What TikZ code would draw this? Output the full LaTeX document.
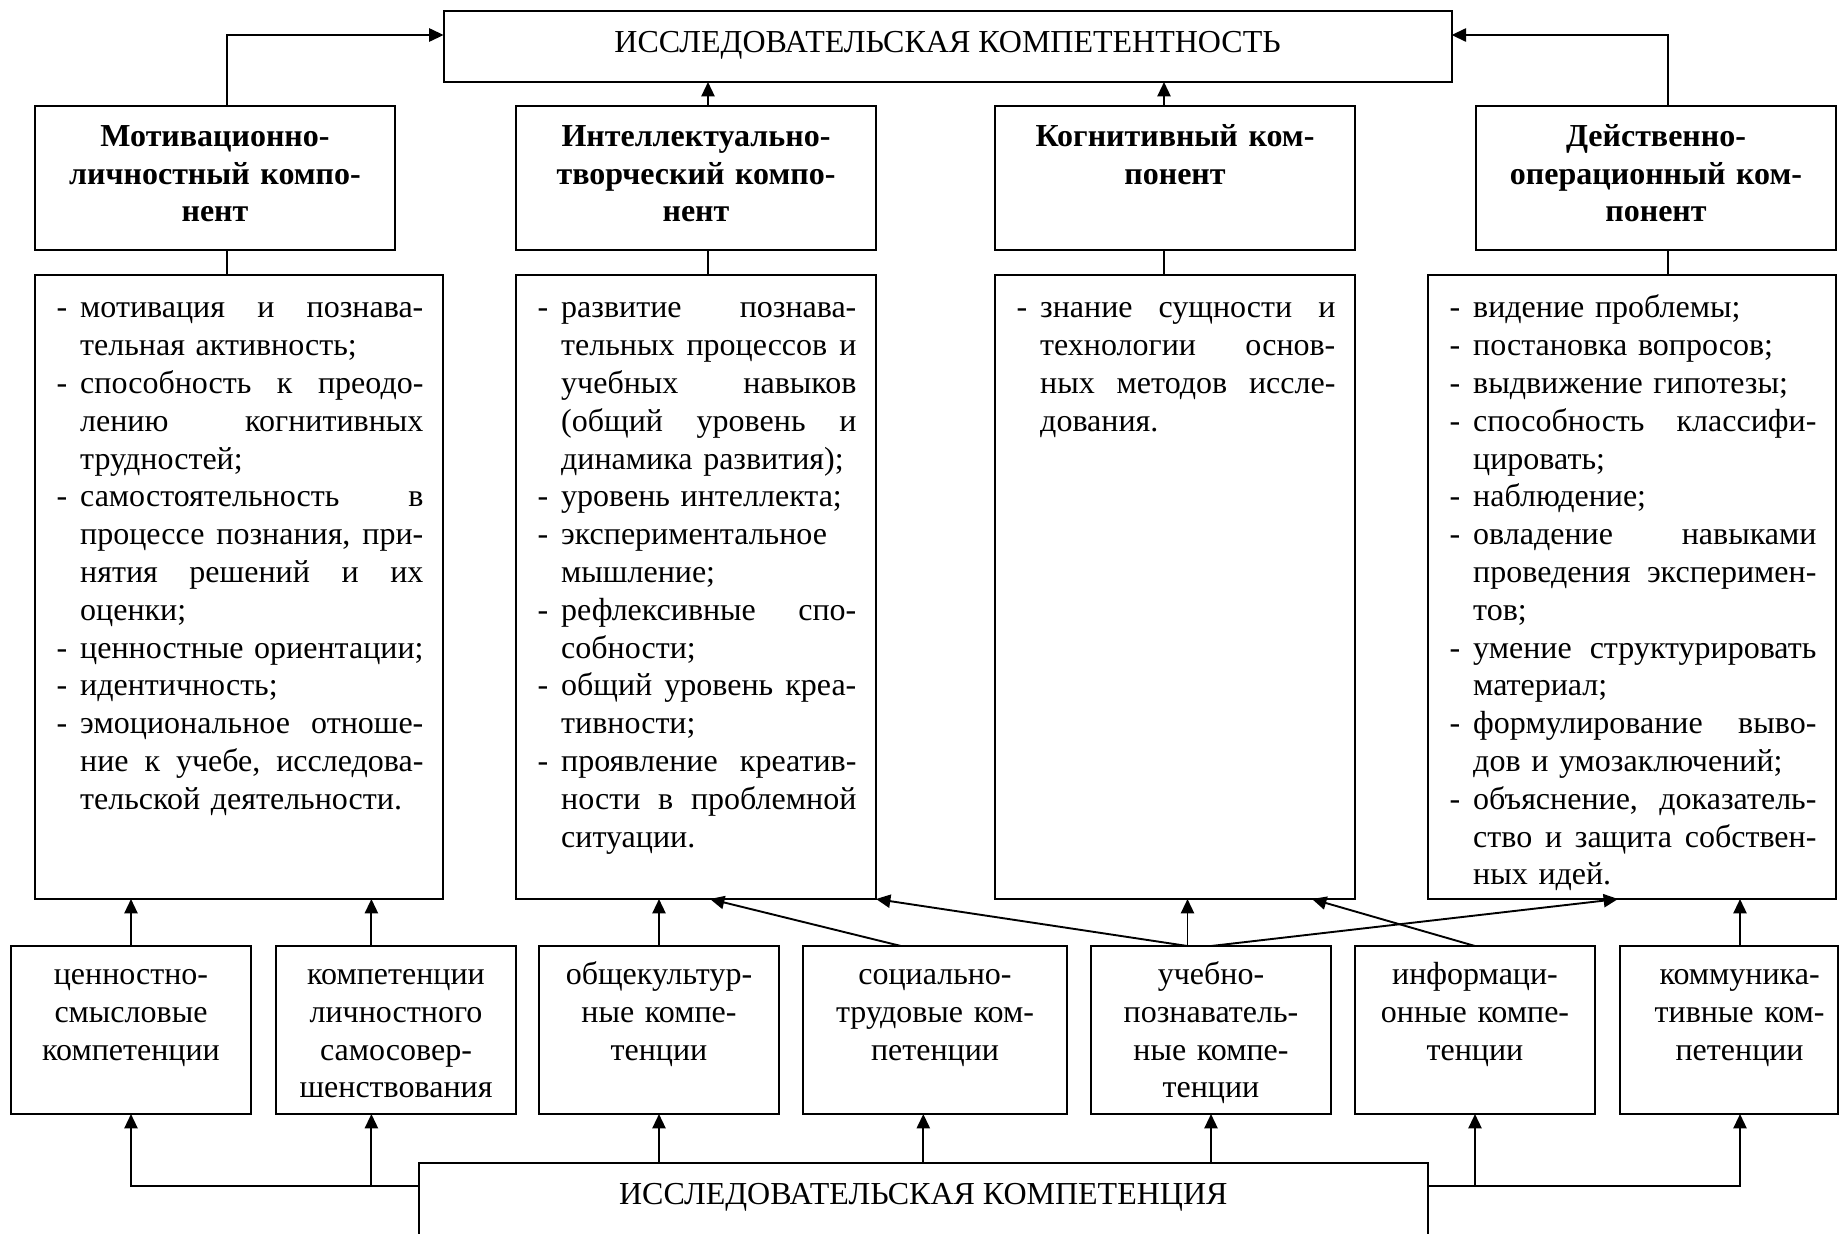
\documentclass[tikz,border=0pt]{standalone}
\usepackage{fontspec}
\setmainfont{Liberation Serif}
\usetikzlibrary{arrows.meta,calc}
\newcommand\jA[1]{\hbox to 171.6pt{#1}}
\newcommand\fA[1]{\hbox to 171.6pt{#1\hfil}}
\newcommand\jB[1]{\hbox to 147.6pt{#1}}
\newcommand\fB[1]{\hbox to 147.6pt{#1\hfil}}
\newcommand\dmark{\llap{\hbox to 11.75pt{-\hfil}}}
\newcommand\gap{\hspace{0pt plus 1fill}}
\begin{document}
\begin{tikzpicture}[x=0.5pt,y=-0.5pt,
 font=\fontsize{16pt}{18.9pt}\selectfont,
 box/.style={draw,line width=0.95pt,inner sep=0pt,outer sep=0pt,anchor=north west},
 ln/.style={line width=0.95pt},
 arr/.style={line width=0.95pt,-{Triangle[length=7.2pt,width=6.6pt]}},
 ttl/.style={anchor=base,align=center,inner sep=0pt,font=\fontsize{16pt}{18.9pt}\selectfont\bfseries},
 ctxt/.style={anchor=base,align=center,inner sep=0pt,font=\fontsize{16pt}{18.9pt}\selectfont},
 ltxt/.style={anchor=base west,align=left,inner sep=0pt,font=\fontsize{16pt}{18.9pt}\selectfont}]
\useasboundingbox (0,0) rectangle (1840,1233);
\fill[white] (0,0) rectangle (1840,1233);
\clip (0,0) rectangle (1840,1233);

% top
\node[box,minimum width=504pt,minimum height=35.7pt] (T) at (443.6,10.6) {};
\node[ctxt] (Tt) at ([yshift=-20.7pt]T.north) {ИССЛЕДОВАТЕЛЬСКАЯ КОМПЕТЕНТНОСТЬ};

% titles
\node[box,minimum width=180pt,minimum height=72.2pt] (M1) at (35,105.6) {};
\node[box,minimum width=180pt,minimum height=72.2pt] (M2) at (516,105.6) {};
\node[box,minimum width=180pt,minimum height=72.2pt] (M3) at (995,105.6) {};
\node[box,minimum width=180pt,minimum height=72.2pt] (M4) at (1476,105.6) {};
\node[ttl,text width=180pt] (M1t) at ([yshift=-20.3pt]M1.north) {Мотивационно-\\личностный компо-\\нент};
\node[ttl,text width=180pt] (M2t) at ([yshift=-20.3pt]M2.north) {Интеллектуально-\\творческий компо-\\нент};
\node[ttl,text width=180pt] (M3t) at ([yshift=-20.3pt]M3.north) {Когнитивный ком-\\понент};
\node[ttl,text width=180pt] (M4t) at ([yshift=-20.3pt]M4.north) {Действенно-\\операционный ком-\\понент};

% lists
\node[box,minimum width=204pt,minimum height=312.2pt] (L1) at (35,274.6) {};
\node[box,minimum width=180pt,minimum height=312.2pt] (L2) at (516,274.6) {};
\node[box,minimum width=180pt,minimum height=312.2pt] (L3) at (995,274.6) {};
\node[box,minimum width=204pt,minimum height=312.2pt] (L4) at (1428,274.6) {};

\node[ltxt,text width=171.6pt] (L1t) at ([xshift=22.4pt,yshift=-21.6pt]L1.north west) {%
\jA{\dmark мотивация\gap и\gap познава-}
\fA{тельная активность;}
\jA{\dmark способность\gap к\gap преодо-}
\jA{лению\gap когнитивных}
\fA{трудностей;}
\jA{\dmark самостоятельность\gap в}
\jA{процессе\gap познания,\gap при-}
\jA{нятия\gap решений\gap и\gap их}
\fA{оценки;}
\fA{\dmark ценностные ориентации;}
\fA{\dmark идентичность;}
\jA{\dmark эмоциональное\gap отноше-}
\jA{ние\gap к\gap учебе,\gap исследова-}
\fA{тельской деятельности.}};

\node[ltxt,text width=147.6pt] (L2t) at ([xshift=22.4pt,yshift=-21.6pt]L2.north west) {%
\jB{\dmark развитие\gap познава-}
\jB{тельных\gap процессов\gap и}
\jB{учебных\gap навыков}
\jB{(общий\gap уровень\gap и}
\fB{динамика развития);}
\fB{\dmark уровень интеллекта;}
\fB{\dmark экспериментальное}
\fB{мышление;}
\jB{\dmark рефлексивные\gap спо-}
\fB{собности;}
\jB{\dmark общий\gap уровень\gap креа-}
\fB{тивности;}
\jB{\dmark проявление\gap креатив-}
\jB{ности\gap в\gap проблемной}
\fB{ситуации.}};

\node[ltxt,text width=147.6pt] (L3t) at ([xshift=22.4pt,yshift=-21.6pt]L3.north west) {%
\jB{\dmark знание\gap сущности\gap и}
\jB{технологии\gap основ-}
\jB{ных\gap методов\gap иссле-}
\fB{дования.}};

\node[ltxt,text width=171.6pt] (L4t) at ([xshift=22.4pt,yshift=-21.6pt]L4.north west) {%
\fA{\dmark видение проблемы;}
\fA{\dmark постановка вопросов;}
\fA{\dmark выдвижение гипотезы;}
\jA{\dmark способность\gap классифи-}
\fA{цировать;}
\fA{\dmark наблюдение;}
\jA{\dmark овладение\gap навыками}
\jA{проведения\gap эксперимен-}
\fA{тов;}
\jA{\dmark умение\gap структурировать}
\fA{материал;}
\jA{\dmark формулирование\gap выво-}
\fA{дов и умозаключений;}
\jA{\dmark объяснение,\gap доказатель-}
\jA{ство\gap и\gap защита\gap собствен-}
\fA{ных идей.}};

% competence boxes
\node[box,minimum width=120pt,minimum height=84pt] (B1) at (11,946) {};
\node[box,minimum width=120pt,minimum height=84pt] (B2) at (276,946) {};
\node[box,minimum width=120pt,minimum height=84pt] (B3) at (539,946) {};
\node[box,minimum width=132pt,minimum height=84pt] (B4) at (803,946) {};
\node[box,minimum width=120pt,minimum height=84pt] (B5) at (1091,946) {};
\node[box,minimum width=120pt,minimum height=84pt] (B6) at (1355,946) {};
\node[box,minimum width=109pt,minimum height=84pt] (B7) at (1620,946) {};
\node[ctxt,text width=120pt] (B1t) at ([yshift=-19.2pt]B1.north) {ценностно-\\смысловые\\компетенции};
\node[ctxt,text width=120pt] (B2t) at ([yshift=-19.2pt]B2.north) {компетенции\\личностного\\самосовер-\\шенствования};
\node[ctxt,text width=120pt] (B3t) at ([yshift=-19.2pt]B3.north) {общекультур-\\ные компе-\\тенции};
\node[ctxt,text width=132pt] (B4t) at ([yshift=-19.2pt]B4.north) {социально-\\трудовые ком-\\петенции};
\node[ctxt,text width=120pt] (B5t) at ([yshift=-19.2pt]B5.north) {учебно-\\познаватель-\\ные компе-\\тенции};
\node[ctxt,text width=120pt] (B6t) at ([yshift=-19.2pt]B6.north) {информаци-\\онные компе-\\тенции};
\node[ctxt,text width=109pt] (B7t) at ([xshift=5.3pt,yshift=-19.2pt]B7.north) {коммуника-\\тивные ком-\\петенции};

% bottom
\node[box,minimum width=504.3pt,minimum height=60pt] (BB) at (419,1163) {};
\node[ctxt] (BBt) at ([yshift=-20.5pt]BB.north) {ИССЛЕДОВАТЕЛЬСКАЯ КОМПЕТЕНЦИЯ};

% connectors top
\draw[arr] ([xshift=6pt]M1.north) |- ([yshift=-12.2pt]T.north west);
\draw[arr] ([xshift=6pt]M4.north) |- ([yshift=-12.2pt]T.north east);
\draw[arr] ([xshift=6pt]M2.north) -- ([xshift=6pt]M2.north |- T.south);
\draw[arr] ([xshift=-5.5pt]M3.north) -- ([xshift=-5.5pt]M3.north |- T.south);
\draw[ln] ([xshift=6pt]M1.south) -- ([xshift=6pt]M1.south |- L1.north);
\draw[ln] ([xshift=6pt]M2.south) -- ([xshift=6pt]M2.south |- L2.north);
\draw[ln] ([xshift=-5.5pt]M3.south) -- ([xshift=-5.5pt]M3.south |- L3.north);
\draw[ln] ([xshift=6pt]M4.south) -- ([xshift=6pt]M4.south |- L4.north);

% competences to lists
\draw[arr] (B1.north) -- (B1.north |- L1.south);
\draw[arr] ([xshift=-12.3pt]B2.north) -- ([xshift=-12.3pt]B2.north |- L1.south);
\draw[arr] (B3.north) -- (B3.north |- L2.south);
\draw[arr] ([xshift=-17pt]B4.north) -- ([xshift=7pt]L2.south);
\draw[arr] ([xshift=-11.75pt]B5.north) -- ([xshift=-11.75pt]B5.north |- L3.south);
\draw[arr] ([xshift=-11.75pt]B5.north) -- (L2.south east);
\draw[arr] (B5.north) -- ([xshift=-7pt]L4.south);
\draw[arr] (B6.north) -- ([xshift=68.5pt]L3.south);
\draw[arr] ([xshift=5.5pt]B7.north) -- ([xshift=5.5pt]B7.north |- L4.south);

% bottom to competences
\draw[arr] ([yshift=-11.5pt]BB.north west) -| (B1.south);
\draw[arr] ([yshift=-11.5pt]BB.north west) -| ([xshift=-12.3pt]B2.south);
\draw[arr] (B3.south |- BB.north) -- (B3.south);
\draw[arr] (BB.north) -- (BB.north |- B4.south);
\draw[arr] (B5.south |- BB.north) -- (B5.south);
\draw[arr] ([yshift=-11.5pt]BB.north east) -| (B6.south);
\draw[arr] ([yshift=-11.5pt]BB.north east) -| ([xshift=5.5pt]B7.south);
\end{tikzpicture}
\end{document}
